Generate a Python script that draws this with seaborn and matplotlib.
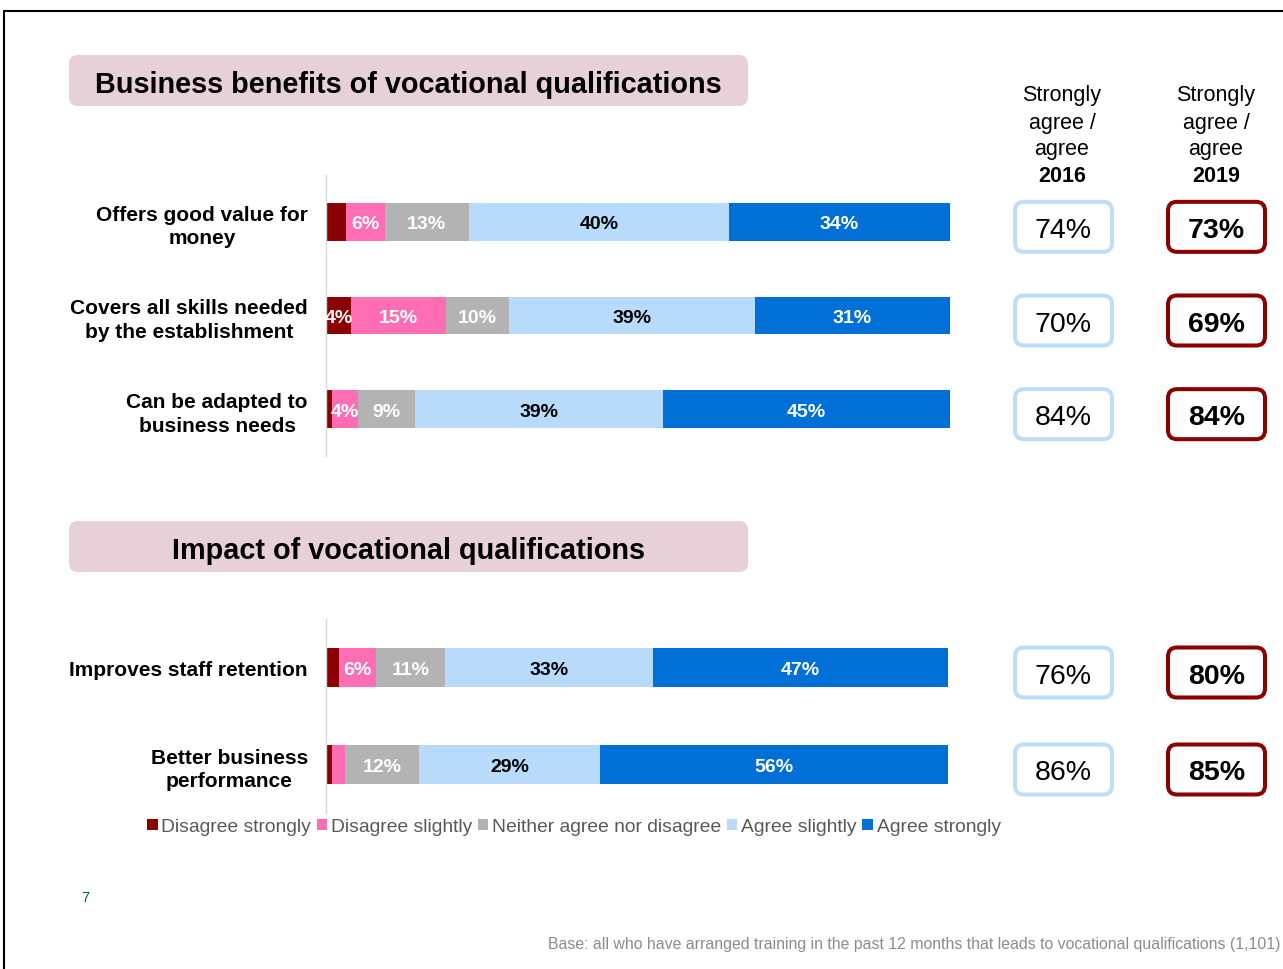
import numpy as np
import pandas as pd
import matplotlib
matplotlib.use("Agg")
import matplotlib.pyplot as plt
from matplotlib.patches import FancyBboxPatch, Patch
from matplotlib.lines import Line2D
from matplotlib.transforms import IdentityTransform
import seaborn as sns

W, H = 1283, 970

# ---- data -------------------------------------------------------------
levels = ["Disagree strongly", "Disagree slightly", "Neither agree nor disagree",
          "Agree slightly", "Agree strongly"]
level_colors = ["#8B0000", "#FF6EB4", "#B3B3B3", "#B8DBFB", "#006FD6"]
label_colors = ["white", "white", "white", "black", "white"]

benefit_items = ["Offers good value for\nmoney",
                 "Covers all skills needed\nby the establishment",
                 "Can be adapted to\nbusiness needs"]
benefit_disagree_strongly = [3, 4, 1]
benefit_disagree_slightly = [6, 15, 4]
benefit_neither = [13, 10, 9]
benefit_agree_slightly = [40, 39, 39]
benefit_agree_strongly = [34, 31, 45]
benefit_agree_2016 = [74, 70, 84]
benefit_agree_2019 = [73, 69, 84]

impact_items = ["Improves staff retention",
                "Better business\nperformance"]
impact_disagree_strongly = [2, 1]
impact_disagree_slightly = [6, 2]
impact_neither = [11, 12]
impact_agree_slightly = [33, 29]
impact_agree_strongly = [47, 56]
impact_agree_2016 = [76, 86]
impact_agree_2019 = [80, 85]

panel_titles = ["Business benefits of vocational qualifications",
                "Impact of vocational qualifications"]
year_headers = ["2016", "2019"]
footnote = ("Base: all who have arranged training in the past 12 months that "
            "leads to vocational qualifications (1,101)")

# ---- style ------------------------------------------------------------
sns.set_style("white")
plt.rcParams["font.family"] = ["Liberation Sans", "DejaVu Sans"]

fig = plt.figure(figsize=(W / 100, H / 100), dpi=100)


def fx(x):
    return x / W


def fy(y):
    return 1 - y / H


def draw_panel(ax, items, series):
    df = pd.DataFrame(dict(zip(levels, series)), index=items)
    share = df.div(df.sum(axis=1), axis=0) * 100
    cum = share.cumsum(axis=1)
    starts = cum - share
    # stacked bars: draw cumulative totals from the longest to the shortest
    for level, color in reversed(list(zip(levels, level_colors))):
        sns.barplot(x=cum[level].values, y=items, order=items, orient="h",
                    color=color, saturation=1, width=0.4, errorbar=None,
                    edgecolor="none", linewidth=0, ax=ax)
    for i, item in enumerate(items):
        for level, tc in zip(levels, label_colors):
            v = df.loc[item, level]
            if v >= 4:
                xc = starts.loc[item, level] + share.loc[item, level] / 2
                ax.text(xc, i, f"{v}%", ha="center", va="center_baseline",
                        color=tc, fontsize=14, fontweight="bold")
    ax.set_xlim(0, 100)
    ax.set_xlabel("")
    ax.set_ylabel("")
    ax.xaxis.set_visible(False)
    for s in ["top", "right", "bottom"]:
        ax.spines[s].set_visible(False)
    ax.spines["left"].set_color("#D9D9D9")
    ax.spines["left"].set_linewidth(1)
    ax.tick_params(axis="y", length=0, pad=13)
    for lab in ax.get_yticklabels():
        lab.set_fontweight("bold")
        lab.set_fontsize(15)
        lab.set_multialignment("center")
        lab.set_linespacing(1.3)
        lab.set_color("black")
        lab.set_verticalalignment("center_baseline")


def draw_summary_boxes(ax, vals_2016, vals_2019):
    for i, (a, b) in enumerate(zip(vals_2016, vals_2019)):
        yc = ax.transData.transform((0, i))[1] - 5
        for xc, val, edge, weight in [(1063.5, a, "#BDDDFB", "normal"),
                                      (1216.5, b, "#8B0000", "bold")]:
            box = FancyBboxPatch((xc - 48.5, yc - 25), 97, 50,
                                 boxstyle="round,pad=0,rounding_size=9",
                                 transform=IdentityTransform(),
                                 facecolor="white", edgecolor=edge,
                                 linewidth=2.9)
            fig.add_artist(box)
            fig.text(fx(xc), yc / H, f"{val}%", ha="center",
                     va="center_baseline", fontsize=20.5, fontweight=weight,
                     color="black")


ax1 = fig.add_axes([fx(326), fy(457), 624 / W, 281 / H])
draw_panel(ax1, benefit_items,
           [benefit_disagree_strongly, benefit_disagree_slightly,
            benefit_neither, benefit_agree_slightly, benefit_agree_strongly])

ax2 = fig.add_axes([fx(326), fy(814), 622 / W, 194 / H])
draw_panel(ax2, impact_items,
           [impact_disagree_strongly, impact_disagree_slightly,
            impact_neither, impact_agree_slightly, impact_agree_strongly])

draw_summary_boxes(ax1, benefit_agree_2016, benefit_agree_2019)
draw_summary_boxes(ax2, impact_agree_2016, impact_agree_2019)

# panel title banners
for title, top in zip(panel_titles, [56, 522]):
    banner = FancyBboxPatch((69, H - top - 51), 679, 51,
                            boxstyle="round,pad=0,rounding_size=9",
                            transform=IdentityTransform(),
                            facecolor="#E8D0D8", edgecolor="none")
    fig.add_artist(banner)
    fig.text(fx(408), fy(top + 26), title, ha="center", va="center_baseline",
             fontsize=20.8, fontweight="bold", color="black")

# column headers
for xc, year in zip([1062, 1216], year_headers):
    for k, line in enumerate(["Strongly", "agree /", "agree"]):
        fig.text(fx(xc), fy(93.5 + 27 * k), line, ha="center",
                 va="center_baseline", fontsize=15.5, color="black")
    fig.text(fx(xc), fy(174.5), year, ha="center", va="center_baseline",
             fontsize=15.5, fontweight="bold", color="black")

# legend
handles = [Patch(facecolor=c, edgecolor="none") for c in level_colors]
fig.legend(handles, levels, loc="center left",
           bbox_to_anchor=(fx(147), fy(828)), ncol=5, frameon=False,
           fontsize=13.9, labelcolor="#595959", handlelength=0.55,
           handleheight=0.55, handletextpad=0.2, columnspacing=0.28,
           borderpad=0, borderaxespad=0)

# page number and base note
fig.text(fx(85), fy(898), "7", ha="center", va="center", fontsize=10.5,
         color="#00614F")
fig.text(fx(1281), fy(945), footnote, ha="right", va="center",
         fontsize=11.4, color="#8C8C8C")

# slide frame
fig.add_artist(Line2D([fx(3.5), 1], [fy(11.5), fy(11.5)], color="black",
                      linewidth=1.5, transform=fig.transFigure))
fig.add_artist(Line2D([fx(3.5), fx(3.5)], [0, fy(11.5)], color="black",
                      linewidth=1.5, transform=fig.transFigure))

fig.savefig("out.png", dpi=100)
